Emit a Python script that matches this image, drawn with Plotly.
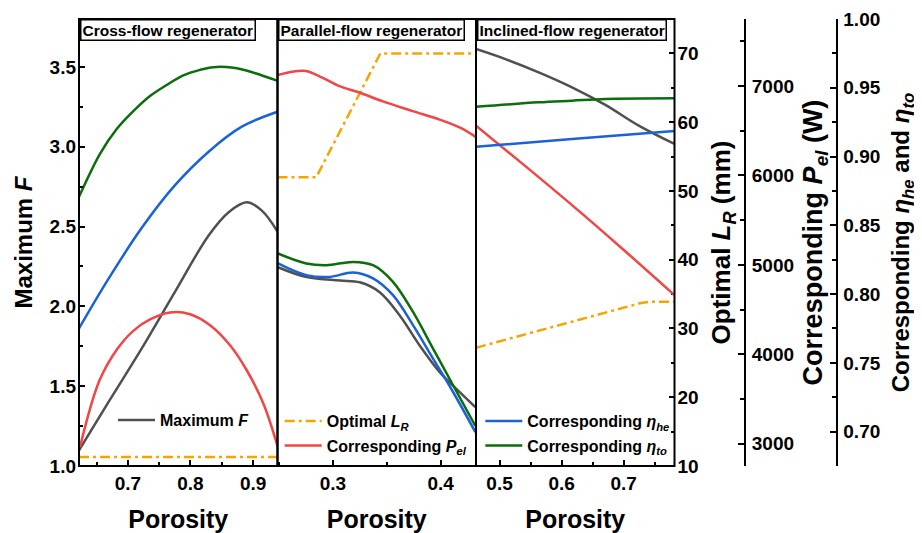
import plotly.graph_objects as go

# ---------------- data ----------------
# Cross-flow regenerator
cf_por_F = [0.622, 0.669, 0.722, 0.775, 0.829, 0.861, 0.890, 0.914, 0.939]
cf_F = [1.098, 1.400, 1.735, 2.089, 2.444, 2.590, 2.652, 2.600, 2.469]
cf_por_LR = [0.622, 0.700, 0.800, 0.900, 0.939]
cf_LR = [11.3, 11.3, 11.3, 11.3, 11.3]
cf_por_Pel = [0.6236, 0.6396, 0.6555, 0.6822, 0.7087, 0.7354, 0.7674, 0.7993, 0.8313,
              0.8632, 0.8899, 0.9164, 0.9394]
cf_Pel = [2963, 3390, 3720, 4050, 4262, 4389, 4467, 4448, 4325, 4101, 3821, 3448, 2963]
cf_por_he = [0.622, 0.669, 0.722, 0.775, 0.829, 0.882, 0.939]
cf_he = [0.775, 0.811, 0.848, 0.879, 0.9035, 0.9217, 0.9326]
cf_por_to = [0.622, 0.6555, 0.6822, 0.7087, 0.7354, 0.762, 0.7886, 0.8153, 0.8366,
             0.8685, 0.9004, 0.9394]
cf_to = [0.8707, 0.902, 0.920, 0.933, 0.944, 0.952, 0.959, 0.963, 0.965, 0.9645, 0.961, 0.955]

# Parallel-flow regenerator
pf_por_F = [0.249, 0.2757, 0.3065, 0.3249, 0.3434, 0.362, 0.3805, 0.3991, 0.4177, 0.4322]
pf_F = [2.245, 2.183, 2.162, 2.151, 2.089, 1.943, 1.755, 1.588, 1.463, 1.369]
pf_por_LR = [0.2485, 0.2845, 0.344, 0.4328]
pf_LR = [52, 52, 70, 70]
pf_por_Pel = [0.249, 0.262, 0.275, 0.290, 0.306, 0.325, 0.347, 0.374, 0.399, 0.418, 0.4325]
pf_Pel = [7123, 7160, 7168, 7095, 7000, 6925, 6825, 6720, 6625, 6535, 6432]
pf_por_he = [0.249, 0.2752, 0.297, 0.3186, 0.3372, 0.3557, 0.3743, 0.3929, 0.4115, 0.4322]
pf_he = [0.8223, 0.8138, 0.8125, 0.8157, 0.8114, 0.7992, 0.7774, 0.7531, 0.7288, 0.6997]
pf_por_to = [0.249, 0.2752, 0.2938, 0.3186, 0.3372, 0.3557, 0.3743, 0.3929, 0.4115, 0.4322]
pf_to = [0.8295, 0.8223, 0.8210, 0.8234, 0.8210, 0.8089, 0.7870, 0.7604, 0.7337, 0.7041]

# Inclined-flow regenerator
if_por_F = [0.462, 0.5093, 0.5631, 0.6168, 0.6705, 0.7244, 0.782]
if_F = [3.612, 3.549, 3.466, 3.372, 3.262, 3.132, 3.017]
if_por_LR = [0.462, 0.728, 0.745, 0.782]
if_LR = [27.2, 33.7, 33.9, 33.9]
if_por_Pel = [0.462, 0.5362, 0.6168, 0.6975, 0.782]
if_Pel = [6556, 6135, 5668, 5183, 4661]
if_por_he = [0.462, 0.6168, 0.782]
if_he = [0.9071, 0.9127, 0.9185]
if_por_to = [0.462, 0.5631, 0.6168, 0.6705, 0.782]
if_to = [0.9362, 0.9394, 0.9406, 0.9418, 0.9423]

panel_titles = ["Cross-flow regenerator", "Parallel-flow regenerator", "Inclined-flow regenerator"]
x_ranges = [[0.622, 0.939], [0.2485, 0.4328], [0.462, 0.782]]
F_range = [1.0, 3.8]
LR_range = [10, 75]
Pel_range = [2750, 7750]
eta_range = [0.675, 1.0]

# ---------------- style / layout ----------------
FONT = "Liberation Sans, Arial, sans-serif"
C_F = "#505050"
C_LR = "#F5A500"
C_PEL = "#F24545"
C_HE = "#1A62D8"
C_TO = "#0B6E0B"
LW = 2.5
DASHDOT = "10px,4px,3px,4px"

OFF = 8  # page body margin of the browser
W, H = 914, 525
ML, MR, MT, MB = 71, 22, 11, 67
PW = W - ML - MR
PH = H - MT - MB


def px_x(p):
    return (p - OFF - ML) / PW


def px_y(p):
    return (OFF + H - MB - p) / PH


doms = [[0, px_x(277.5)], [px_x(277.5), px_x(476)], [px_x(476), px_x(674.5)]]
xids = ["x", "x2", "x3"]

fig = go.Figure()

panels = [
    (cf_por_F, cf_F, cf_por_LR, cf_LR, cf_por_Pel, cf_Pel, cf_por_he, cf_he, cf_por_to, cf_to),
    (pf_por_F, pf_F, pf_por_LR, pf_LR, pf_por_Pel, pf_Pel, pf_por_he, pf_he, pf_por_to, pf_to),
    (if_por_F, if_F, if_por_LR, if_LR, if_por_Pel, if_Pel, if_por_he, if_he, if_por_to, if_to),
]

names = {
    "F": "Maximum <i>F</i>",
    "LR": "Optimal <i>L</i><sub><i>R</i></sub>",
    "Pel": "Corresponding <i>P</i><sub><i>el</i></sub>",
    "he": "Corresponding <i>η</i><sub><i>he</i></sub>",
    "to": "Corresponding <i>η</i><sub><i>to</i></sub>",
}
legend_of = {(0, "F"): "legend", (1, "LR"): "legend2", (1, "Pel"): "legend3",
             (2, "he"): "legend4", (2, "to"): "legend5"}

for i, pdata in enumerate(panels):
    pF, vF, pL, vL, pP, vP, ph, vh, pt, vt = pdata
    xa = xids[i]
    series = [
        ("LR", pL, vL, "y2", C_LR, DASHDOT, "linear"),
        ("Pel", pP, vP, "y3", C_PEL, "solid", "spline"),
        ("he", ph, vh, "y4", C_HE, "solid", "spline"),
        ("to", pt, vt, "y4", C_TO, "solid", "spline"),
        ("F", pF, vF, "y", C_F, "solid", "spline"),
    ]
    for key, xs, ys, ya, col, dash, shape in series:
        leg = legend_of.get((i, key))
        fig.add_trace(go.Scatter(
            x=xs, y=ys, xaxis=xa, yaxis=ya, mode="lines",
            line=dict(color=col, width=LW, dash=dash, shape=shape, smoothing=1.0),
            name=names[key], showlegend=leg is not None,
            legend=leg if leg else "legend", hoverinfo="skip",
        ))

tickfont = dict(family=FONT, size=19, color="black", weight="bold")


def tfont(sz):
    return dict(family=FONT, size=sz, color="black", weight="bold")


common_ax = dict(showgrid=False, zeroline=False, ticks="inside", ticklen=6, tickwidth=1.5,
                 tickcolor="black", tickfont=tickfont, automargin=False)

layout = dict(
    width=W, height=H, margin=dict(l=ML, r=MR, t=MT, b=MB, autoexpand=False),
    paper_bgcolor="white", plot_bgcolor="white",
    font=dict(family=FONT, color="black"),
)

for i in range(3):
    key = "xaxis" if i == 0 else f"xaxis{i+1}"
    layout[key] = dict(
        domain=doms[i], range=x_ranges[i], anchor="y", dtick=0.1, tickformat=".1f",
        minor=dict(dtick=0.05, ticks="inside", ticklen=4, tickwidth=1.5, tickcolor="black"),
        title=dict(text="Porosity", font=tfont(25), standoff=17),
        showline=False, ticklabelstandoff=4, **common_ax)

layout["yaxis"] = dict(
    domain=[0, 1], range=F_range, anchor="x", side="left", dtick=0.5, tickformat=".1f",
    minor=dict(dtick=0.25, ticks="inside", ticklen=4, tickwidth=1.5, tickcolor="black"),
    title=dict(text="Maximum <i>F</i>", font=tfont(24), standoff=10),
    showline=False, ticklabelstandoff=2, **common_ax)
layout["yaxis2"] = dict(
    domain=[0, 1], range=LR_range, anchor="x3", side="right", overlaying="y", dtick=10,
    minor=dict(dtick=5, ticks="inside", ticklen=4, tickwidth=1.5, tickcolor="black"),
    title=dict(text="Optimal <i>L</i><sub><i>R</i></sub> (mm)", font=tfont(26), standoff=14),
    showline=False, ticklabelstandoff=2, **common_ax)
layout["yaxis3"] = dict(
    domain=[0, 1], range=Pel_range, anchor="free", position=px_x(745), side="right",
    overlaying="y", dtick=1000,
    minor=dict(dtick=500, ticks="inside", ticklen=4, tickwidth=1.5, tickcolor="black"),
    title=dict(text="Corresponding <i>P</i><sub><i>el</i></sub> (W)", font=tfont(27), standoff=9),
    showline=True, linewidth=2, linecolor="black", ticklabelstandoff=2, **common_ax)
layout["yaxis4"] = dict(
    domain=[0, 1], range=eta_range, anchor="free", position=px_x(836.5), side="right",
    overlaying="y", dtick=0.05, tickformat=".2f",
    minor=dict(dtick=0.025, ticks="inside", ticklen=4, tickwidth=1.5, tickcolor="black"),
    title=dict(text="Corresponding <i>η</i><sub><i>he</i></sub> and <i>η</i><sub><i>to</i></sub>",
               font=tfont(24), standoff=11),
    showline=True, linewidth=2, linecolor="black", ticklabelstandoff=2, **common_ax)

legfont = dict(family=FONT, size=16, color="black", weight="bold")
leg_pos = {"legend": (113, 420), "legend2": (279.7, 421), "legend3": (279.7, 445.7),
           "legend4": (480.3, 421), "legend5": (480.3, 445.7)}
for lk, (lx, ly) in leg_pos.items():
    layout[lk] = dict(x=px_x(lx), y=px_y(ly), xanchor="left", yanchor="middle",
                      bgcolor="rgba(0,0,0,0)", borderwidth=0, font=legfont, itemwidth=37)

shapes = []
for d in doms:
    shapes.append(dict(type="rect", xref="paper", yref="paper", x0=d[0], x1=d[1], y0=0, y1=1,
                       line=dict(color="black", width=2), layer="above"))
layout["shapes"] = shapes

annotations = []
for d, t in zip(doms, panel_titles):
    annotations.append(dict(text=t, xref="paper", yref="paper", x=d[0] + 0.001, y=1,
                            xanchor="left", yanchor="top", showarrow=False,
                            bgcolor="white", bordercolor="black", borderwidth=1.5, borderpad=1,
                            font=dict(family=FONT, size=15.5, color="black", weight="bold")))
layout["annotations"] = annotations

fig.update_layout(**layout)
fig.write_html("out.html")
